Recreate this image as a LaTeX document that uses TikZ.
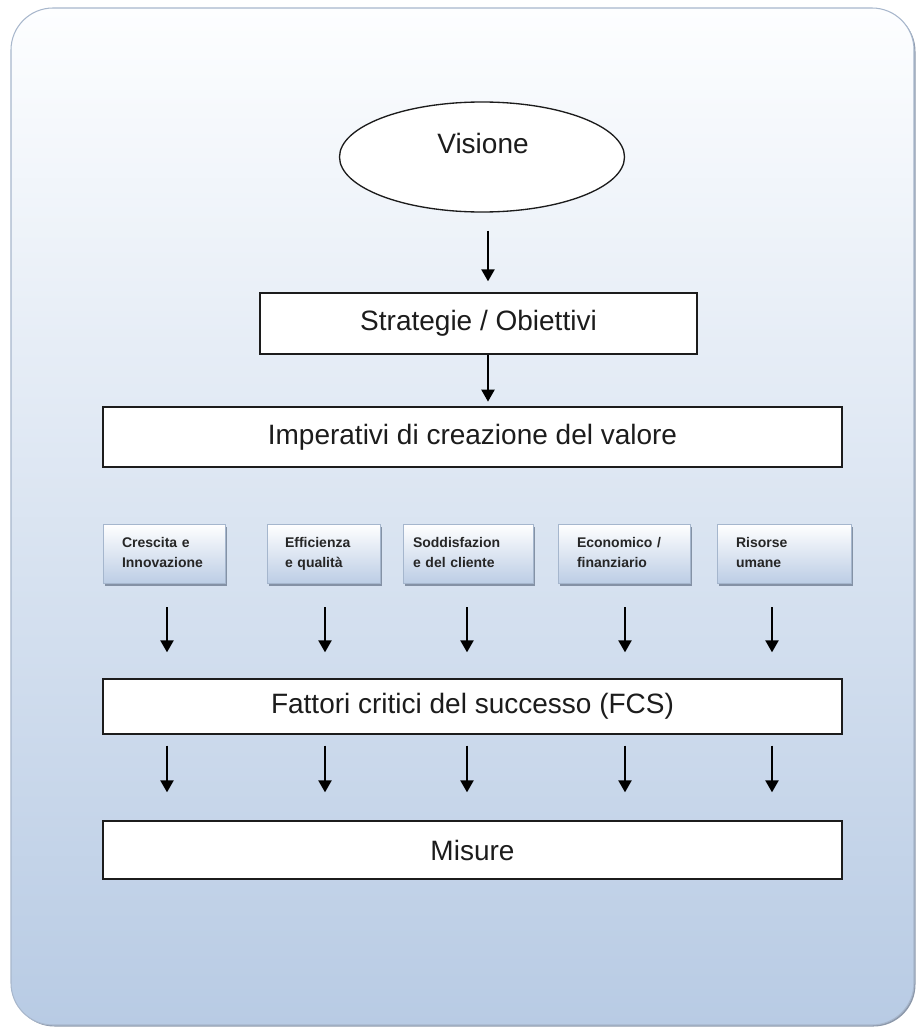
\documentclass[tikz,border=0pt]{standalone}
\usepackage{fontspec}
\setmainfont{Liberation Sans}
\usetikzlibrary{arrows.meta,shapes.geometric,shadows}
\definecolor{panelTop}{RGB}{253,254,255}
\definecolor{panelBot}{RGB}{184,203,228}
\definecolor{panelEdge}{RGB}{168,183,204}
\definecolor{panelShade}{RGB}{140,152,170}
\definecolor{inkDark}{RGB}{28,28,28}
\definecolor{tileBot}{RGB}{188,205,229}
\definecolor{tileEdge}{RGB}{165,182,205}
\definecolor{tileShadow}{RGB}{118,132,152}

\begin{document}
\begin{tikzpicture}[x=0.75pt,y=-0.75pt,
  bigtext/.style={font=\fontsize{21}{25}\selectfont, text=inkDark},
  framebox/.style={draw=inkDark, line width=1.1pt, fill=white, inner sep=0pt, bigtext},
  tile/.style={draw=tileEdge, line width=0.6pt, top color=white, bottom color=tileBot,
    minimum height=44.25pt, inner ysep=0pt, align=left,
    font=\fontsize{10.5}{15}\bfseries\selectfont, text=black!85,
    drop shadow={shadow xshift=1.8pt, shadow yshift=-2.2pt, fill=tileShadow, opacity=0.85}},
  flow/.style={-{Triangle[width=10pt,length=9pt]}, line width=1.1pt, draw=black}
]
\useasboundingbox (0,0) rectangle (917,1028);

% background panel with a soft edge at the lower right
\fill[panelShade, rounded corners=31.5pt] (12.5,9.5) rectangle (915.5,1026.5);
\shade[top color=panelTop, bottom color=panelBot, rounded corners=31.5pt] (11,8) rectangle (914,1025);
\draw[panelEdge, line width=0.8pt, rounded corners=31.5pt] (11,8) rectangle (914,1025);

% vision ellipse
\node[ellipse, draw=inkDark, line width=1pt, fill=white, minimum width=213.75pt,
      minimum height=82.5pt, inner sep=0pt] (vis) at (482,157) {};
\node[bigtext] (vistxt) at (483,143) {Visione};

% main blocks
\node[framebox, minimum width=327.75pt, minimum height=45.75pt] (strat) at (478.5,323.5) {Strategie / Obiettivi};
\node[framebox, minimum width=554.25pt, minimum height=45pt] (imp) at (472.5,437) {Imperativi di creazione del valore};
\node[framebox, minimum width=554.25pt, minimum height=41.25pt] (fcs) at (472.5,706.5) {Fattori critici del successo (FCS)};
\node[framebox, minimum width=554.25pt, minimum height=43.5pt] (mis) at (472.5,850) {Misure};

% value perspectives
\node[tile, minimum width=91.5pt, text width=63pt, inner xsep=14.25pt] (t1) at (164,553.5) {Crescita e\strut\\Innovazione\strut};
\node[tile, minimum width=84.75pt, text width=57.75pt, inner xsep=13.5pt] (t2) at (323.5,553.5) {Efficienza\strut\\e qualità\strut};
\node[tile, minimum width=97.5pt, text width=82.5pt, inner xsep=7.5pt] (t3) at (468,553.5) {Soddisfazion\strut\\e del cliente\strut};
\node[tile, minimum width=99pt, text width=70.5pt, inner xsep=14.25pt] (t4) at (624,553.5) {Economico /\strut\\finanziario\strut};
\node[tile, minimum width=100.5pt, text width=72pt, inner xsep=14.25pt] (t5) at (784,553.5) {Risorse\strut\\umane\strut};

% arrow columns
\coordinate (spine) at (488,0);
\coordinate (k1) at (167,0);
\coordinate (k2) at (325,0);
\coordinate (k3) at (467,0);
\coordinate (k4) at (625,0);
\coordinate (k5) at (772,0);

\draw[flow, shorten <=13.5pt, shorten >=8.25pt] (vis.south -| spine) -- (strat.north -| spine);
\draw[flow, shorten >=3.5pt] (strat.south -| spine) -- (imp.north -| spine);

\foreach \t/\k in {t1/k1,t2/k2,t3/k3,t4/k4,t5/k5}{
  \draw[flow, shorten <=18pt, shorten >=19.5pt] (\t.south -| \k) -- (fcs.north -| \k);
  \draw[flow, shorten <=8.25pt, shorten >=21pt] (fcs.south -| \k) -- (mis.north -| \k);
}
\end{tikzpicture}
\end{document}
